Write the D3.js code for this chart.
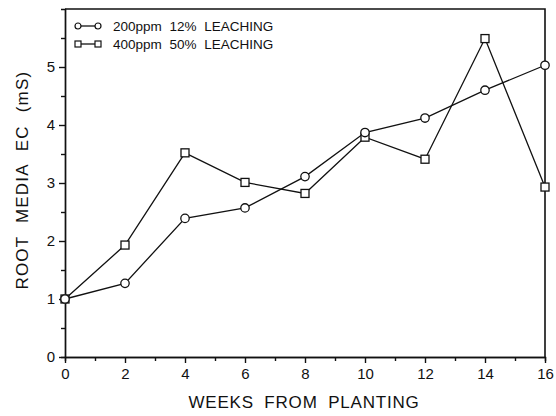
<!DOCTYPE html>
<html>
<head>
<meta charset="utf-8">
<script src="https://cdn.jsdelivr.net/npm/d3@7"></script>
<style>
  body { margin: 0; background: #fff; }
  svg text { font-family: "Liberation Sans", Arial, sans-serif; fill: #111; }
</style>
</head>
<body>
<div class="chart"></div>
<script>
// data
const weeks = [0, 2, 4, 6, 8, 10, 12, 14, 16];
const ec200 = [1.0, 1.27, 2.39, 2.57, 3.11, 3.87, 4.12, 4.60, 5.03];
const ec400 = [1.0, 1.93, 3.52, 3.01, 2.82, 3.79, 3.41, 5.49, 2.93];
const seriesNames = ["200ppm 12% LEACHING", "400ppm 50% LEACHING"];
const xTicks = [0, 2, 4, 6, 8, 10, 12, 14, 16];
const yTicks = [0, 1, 2, 3, 4, 5];

const margin = ({top: 9, right: 11, bottom: 59, left: 65})
const W = 556, H = 416;
const width = W - margin.left - margin.right;
const height = H - margin.top - margin.bottom;

const svg = d3.select('.chart')
    .append('svg')
    .attr("width", W)
    .attr("height", H)
  .append("g")
    .attr("transform", `translate(${margin.left},${margin.top})`)

const x = d3.scaleLinear().domain([0, 16]).range([0, width]);
const y = d3.scaleLinear().domain([0, 6]).range([height, 0]);

// frame (top + right)
svg.append("path")
    .attr("d", `M0,0H${width}V${height}`)
    .attr("fill", "none")
    .attr("stroke", "#111")
    .attr("stroke-width", 1.6)

// minor ticks
svg.append("g")
    .attr("transform", `translate(0,${height})`)
    .call(d3.axisBottom(x).tickValues(d3.range(1, 16, 2)).tickSize(4).tickFormat(""))
svg.append("g")
    .call(d3.axisLeft(y).tickValues(d3.range(0.5, 6, 1)).tickSize(4).tickFormat(""))

// major axes
svg.append("g")
    .attr("class", "axis x-axis")
    .attr("transform", `translate(0,${height})`)
    .call(d3.axisBottom(x).tickValues(xTicks).tickSize(6).tickPadding(5).tickSizeOuter(0).tickFormat(d3.format("d")))
svg.append("g")
    .attr("class", "axis y-axis")
    .call(d3.axisLeft(y).tickValues(yTicks).tickSize(6).tickPadding(4).tickSizeOuter(0).tickFormat(d3.format("d")))

svg.selectAll(".domain, .tick line")
    .attr("stroke", "#111")
    .attr("stroke-width", 1.4)
svg.selectAll(".axis .tick text")
    .attr("font-size", 15)
    .attr("fill", "#111")

// axis titles
svg.append("text")
    .attr("x", x(8) - 1)
    .attr("y", height + 51)
    .attr("text-anchor", "middle")
    .attr("font-size", 17)
    .attr("letter-spacing", 0.8)
    .attr("word-spacing", 5)
    .text("WEEKS FROM PLANTING")

svg.append("text")
    .attr("transform", `translate(${-37},${y(3.05)}) rotate(-90)`)
    .attr("text-anchor", "middle")
    .attr("font-size", 17)
    .attr("letter-spacing", 1.2)
    .attr("word-spacing", 7)
    .text("ROOT MEDIA EC (mS)")

// lines
const line = d3.line().x(d => x(d[0])).y(d => y(d[1]));
const s1 = weeks.map((w, i) => [w, ec200[i]]);
const s2 = weeks.map((w, i) => [w, ec400[i]]);

[s2, s1].forEach(s => {
  svg.append("path")
      .datum(s)
      .attr("d", line)
      .attr("fill", "none")
      .attr("stroke", "#111")
      .attr("stroke-width", 1.3)
})

function square(g, cx, cy) {
  g.append("rect")
      .attr("x", cx - 4).attr("y", cy - 4)
      .attr("width", 8).attr("height", 8)
      .attr("fill", "#fff").attr("stroke", "#111").attr("stroke-width", 1.3)
}
function circle(g, cx, cy) {
  g.append("circle")
      .attr("cx", cx).attr("cy", cy).attr("r", 4.2)
      .attr("fill", "#fff").attr("stroke", "#111").attr("stroke-width", 1.3)
}

s2.forEach(d => square(svg, x(d[0]), y(d[1])));
s1.forEach(d => circle(svg, x(d[0]), y(d[1])));

// legend
const legend = svg.append("g").attr("transform", "translate(12,17)");
[circle, square].forEach((mk, i) => {
  const ly = i * 18;
  legend.append("line")
      .attr("x1", 1).attr("x2", 21).attr("y1", ly).attr("y2", ly)
      .attr("stroke", "#111").attr("stroke-width", 1.3)
  if (mk === circle) {
    legend.append("circle").attr("cx", 1).attr("cy", ly).attr("r", 3)
        .attr("fill", "#fff").attr("stroke", "#111").attr("stroke-width", 1.2)
    legend.append("circle").attr("cx", 21).attr("cy", ly).attr("r", 3)
        .attr("fill", "#fff").attr("stroke", "#111").attr("stroke-width", 1.2)
  } else {
    [1, 21].forEach(lx => legend.append("rect")
        .attr("x", lx - 3).attr("y", ly - 3).attr("width", 6).attr("height", 6)
        .attr("fill", "#fff").attr("stroke", "#111").attr("stroke-width", 1.2))
  }
  legend.append("text")
      .attr("x", 36).attr("y", ly + 5)
      .attr("font-size", 13.5)
      .attr("word-spacing", 4)
      .text(seriesNames[i])
})
</script>
</body>
</html>
